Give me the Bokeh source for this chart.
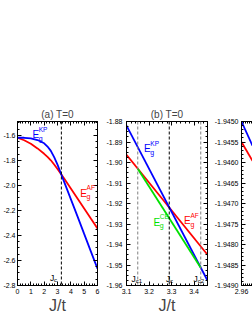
from bokeh.plotting import figure
from bokeh.models import LinearAxis, Label, Span, FixedTicker, Range1d, PrintfTickFormatter
from bokeh.layouts import row
from bokeh.embed import file_html
from bokeh.resources import INLINE

FONT = "Liberation Sans"
BLUE = "#0000ff"
RED = "#ff0000"
GREEN = "#00e000"

# ---------------- data ----------------
# panel (a)
j_a = [0, 0.5, 1.0, 1.5, 2.0, 2.25, 2.5, 2.75, 3.0, 3.25, 3.5, 4.0, 4.5, 5.0, 5.5, 6.0]
e_kp_a = [-1.620, -1.620, -1.624, -1.638, -1.664, -1.690, -1.725, -1.775, -1.835, -1.903, -1.972,
          -2.110, -2.248, -2.388, -2.527, -2.666]
e_af_a = [-1.620, -1.640, -1.668, -1.705, -1.748, -1.773, -1.800, -1.834, -1.870, -1.907, -1.945,
          -2.025, -2.105, -2.185, -2.265, -2.344]
jc_a = 3.29

# panel (b)
j_kp_b = [3.10, 3.46]
e_kp_b = [-1.8820, -1.9576]
j_af_b = [3.10, 3.46]
e_af_b = [-1.8962, -1.9450]
j_ce_b = [3.15, 3.43]
e_ce_b = [-1.9030, -1.9513]
jc1_b, jc_b, jc2_b = 3.15, 3.29, 3.43

# panel (c) (only its left edge is visible)
j_kp_c = [2.96, 2.9709]
e_kp_c = [-1.94500, -1.94559]
j_af_c = [2.96, 2.9709]
e_af_c = [-1.94550, -1.94596]

xt_a = [0, 1, 2, 3, 4, 5, 6]
yt_a = [-2.8, -2.6, -2.4, -2.2, -2.0, -1.8, -1.6]
xt_b = [3.1, 3.2, 3.3, 3.4]
yt_b = [-1.96, -1.95, -1.94, -1.93, -1.92, -1.91, -1.90, -1.89, -1.88]
xt_c = [2.96]
yt_c = [-1.9490, -1.9485, -1.9480, -1.9475, -1.9470, -1.9465, -1.9460, -1.9455, -1.9450]

H = 325
TOP = 121
BOTTOM = 40


def minors(lo, hi, step):
    out = []
    v = lo
    while v <= hi + 1e-12:
        out.append(round(v, 6))
        v += step
    return out


def style_axis(ax, ticks, minor, fmt, labels=True, standoff=3):
    ax.ticker = FixedTicker(ticks=ticks, minor_ticks=minor)
    ax.formatter = PrintfTickFormatter(format=fmt)
    ax.major_tick_in = 4
    ax.major_tick_out = 0
    ax.minor_tick_in = 2
    ax.minor_tick_out = 0
    ax.axis_line_color = "black"
    ax.major_tick_line_color = "black"
    ax.minor_tick_line_color = "black"
    ax.major_label_text_font = FONT
    if labels:
        ax.major_label_text_color = "black"
        ax.major_label_text_font_size = "7px"
        ax.major_label_standoff = standoff
    else:
        ax.major_label_text_color = None
        ax.major_label_text_alpha = 0
        ax.major_label_text_font_size = "0px"
        ax.major_label_standoff = 0


def panel(width, left, right, xr, yr, xt, xm, xf, yt, ym, yf, title=None, xlabel=True,
          mirror_right=True, outline=True, ystandoff=3):
    p = figure(width=width, height=H, x_range=Range1d(*xr), y_range=Range1d(*yr),
               output_backend="svg", toolbar_location=None,
               min_border_left=left, min_border_right=right,
               min_border_top=TOP, min_border_bottom=BOTTOM)
    p.xgrid.visible = False
    p.ygrid.visible = False
    p.background_fill_color = "white"
    p.border_fill_color = "white"
    p.outline_line_color = "black" if outline else None
    style_axis(p.xaxis[0], xt, xm, xf, standoff=3)
    style_axis(p.yaxis[0], yt, ym, yf, standoff=ystandoff)
    if xlabel:
        p.xaxis[0].axis_label = "J/t"
        p.xaxis[0].axis_label_text_font = FONT
        p.xaxis[0].axis_label_text_font_size = "16px"
        p.xaxis[0].axis_label_text_font_style = "normal"
        p.xaxis[0].axis_label_standoff = 0
    top = LinearAxis()
    style_axis(top, xt, xm, xf, labels=False)
    p.add_layout(top, "above")
    if mirror_right:
        r = LinearAxis()
        style_axis(r, yt, ym, yf, labels=False)
        p.add_layout(r, "right")
    if title:
        p.title.text = title
        p.title.align = "center"
        p.title.text_font = FONT
        p.title.text_font_size = "10px"
        p.title.text_font_style = "normal"
        p.title.standoff = 3
    return p


def lab(p, x, y, text, color, size, dx=0, dy=0):
    p.add_layout(Label(x=x, y=y, text=text, text_color=color, text_font=FONT,
                       text_font_size=size, x_offset=dx, y_offset=dy,
                       text_baseline="alphabetic", text_align="left"))


def elabel(p, x, y, sup, color):
    lab(p, x, y, "E", color, "10px")
    lab(p, x, y, sup, color, "6.5px", dx=6.3, dy=5.5)
    lab(p, x, y, "g", color, "7px", dx=6.3, dy=-3.5)


def jlabel(p, x, y, sub):
    lab(p, x, y, "J", "black", "8.5px")
    lab(p, x, y, sub, "black", "6px", dx=4.2, dy=-2.5)


# ---------------- panel (a) ----------------
pa = panel(100, 16, 3, (0, 6), (-2.8, -1.49),
           xt_a, minors(0, 6, 0.2), "%.0f",
           yt_a, minors(-2.8, -1.5, 0.05), "%.1f",
           title="(a) T=0", ystandoff=2)
pa.add_layout(Span(location=jc_a, dimension="height", line_color="black", line_dash="3 2", line_width=1))
pa.line(j_a, e_af_a, line_color=RED, line_width=1.8)
pa.line(j_a, e_kp_a, line_color=BLUE, line_width=1.8)
elabel(pa, 1.12, -1.596, "KP", BLUE)
elabel(pa, 4.71, -2.064, "AF", RED)
jlabel(pa, 2.43, -2.738, "c")

# ---------------- panel (b) ----------------
pb = panel(108, 26, 1, (3.1, 3.46), (-1.96, -1.88),
           xt_b, minors(3.1, 3.46, 0.02), "%.1f",
           yt_b, minors(-1.96, -1.88, 0.0025), "%.2f",
           title="(b) T=0", ystandoff=4)
for loc, col in ((jc1_b, "#808080"), (jc2_b, "#808080"), (jc_b, "black")):
    pb.add_layout(Span(location=loc, dimension="height", line_color=col, line_dash="3 2", line_width=1))
pb.line(j_af_b, e_af_b, line_color=RED, line_width=1.8)
pb.line(j_kp_b, e_kp_b, line_color=BLUE, line_width=1.8)
pb.line(j_ce_b, e_ce_b, line_color=GREEN, line_width=1.8)
elabel(pb, 3.178, -1.8933, "KP", BLUE)
elabel(pb, 3.22, -1.9291, "CE", GREEN)
elabel(pb, 3.356, -1.9283, "AF", RED)
jlabel(pb, 3.122, -1.9567, "c1")
jlabel(pb, 3.275, -1.9567, "c")
jlabel(pb, 3.398, -1.9567, "c2")

# ---------------- panel (c) ----------------
pc = panel(44, 33, 0, (2.96, 2.9709), (-1.9490, -1.9450),
           xt_c, minors(2.96, 2.97, 0.002), "%.2f",
           yt_c, minors(-1.9490, -1.9450, 0.0001), "%.4f",
           title=None, xlabel=False, mirror_right=False, outline=False, ystandoff=3)
pc.line(j_af_c, e_af_c, line_color=RED, line_width=1.8)
pc.line(j_kp_c, e_kp_c, line_color=BLUE, line_width=1.8)

layout = row(pa, pb, pc)
open("out.html", "w").write(file_html(layout, INLINE))
